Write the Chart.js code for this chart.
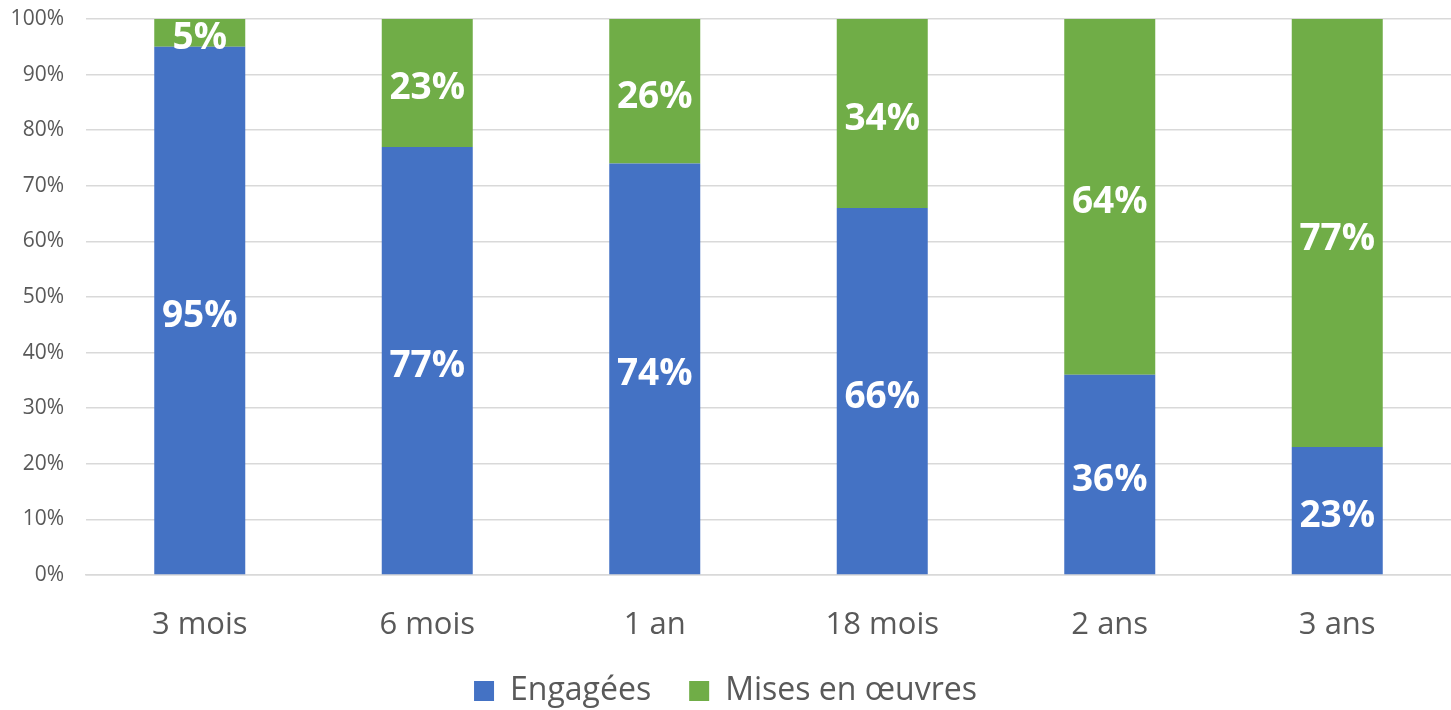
<!DOCTYPE html>
<html>
<head>
<meta charset="utf-8">
<script src="https://cdn.jsdelivr.net/npm/chart.js@4"></script>
<style>
  body { margin: 0; background: #fff; }
  #wrap { width: 1451px; height: 710px; position: relative; }
</style>
</head>
<body>
<div id="wrap"><canvas id="chart"></canvas></div>
<script>
var categories = ["3 mois", "6 mois", "1 an", "18 mois", "2 ans", "3 ans"];
var engagees = [95, 77, 74, 66, 36, 23];
var misesEnOeuvres = [5, 23, 26, 34, 64, 77];
var yTicks = [0, 10, 20, 30, 40, 50, 60, 70, 80, 90, 100];

var textColor = "#595959";
var fontFamily = "'Open Sans', 'Noto Sans', sans-serif";

// white labels in the middle of each segment
var barLabels = {
    id: "barLabels",
    afterDatasetsDraw: function (chart) {
        var ctx = chart.ctx;
        ctx.save();
        ctx.fillStyle = "#ffffff";
        ctx.font = "bold 37px " + fontFamily;
        ctx.textAlign = "center";
        ctx.textBaseline = "middle";
        chart.data.datasets.forEach(function (ds, i) {
            chart.getDatasetMeta(i).data.forEach(function (bar, j) {
                var mid = (bar.y + bar.base) / 2;
                ctx.fillText(ds.data[j] + "%", bar.x, mid + 6);
            });
        });
        ctx.restore();
    }
};

var canvasElement = document.getElementById("chart");
var config = {
    type: "bar",
    data: {
        labels: categories,
        datasets: [
            {
                label: "Engagées",
                data: engagees,
                backgroundColor: "#4472C4",
                barPercentage: 0.4,
                categoryPercentage: 1.0
            },
            {
                label: "Mises en œuvres",
                data: misesEnOeuvres,
                backgroundColor: "#70AD47",
                barPercentage: 0.4,
                categoryPercentage: 1.0
            }
        ]
    },
    options: {
        responsive: true,
        maintainAspectRatio: false,
        animation: false,
        layout: { padding: { top: 19, right: 0, left: 0, bottom: -7 } },
        plugins: {
            tooltip: { enabled: false },
            legend: {
                position: "bottom",
                labels: {
                    color: textColor,
                    font: { family: fontFamily, size: 32 },
                    boxWidth: 20,
                    boxHeight: 20,
                    padding: 38
                }
            }
        },
        scales: {
            x: {
                stacked: true,
                grid: { display: false },
                border: { display: true, color: "#d9d9d9", width: 1.5 },
                ticks: {
                    color: textColor,
                    font: { family: fontFamily, size: 31 },
                    padding: 24
                },
                afterFit: function (scale) { scale.height = 62; }
            },
            y: {
                stacked: true,
                min: 0,
                max: 100,
                afterBuildTicks: function (scale) {
                    scale.ticks = yTicks.map(function (v) { return { value: v }; });
                },
                grid: {
                    color: "#d9d9d9",
                    lineWidth: 1.5,
                    drawTicks: true,
                    tickLength: 22,
                    tickColor: "rgba(0,0,0,0)"
                },
                border: { display: false },
                ticks: {
                    color: textColor,
                    font: { family: fontFamily, size: 21 },
                    padding: 0,
                    callback: function (v) { return v + "%"; }
                },
                afterFit: function (scale) { scale.width = 86; }
            }
        }
    },
    plugins: [barLabels]
};
var chart = new Chart(canvasElement, config);
</script>
</body>
</html>
